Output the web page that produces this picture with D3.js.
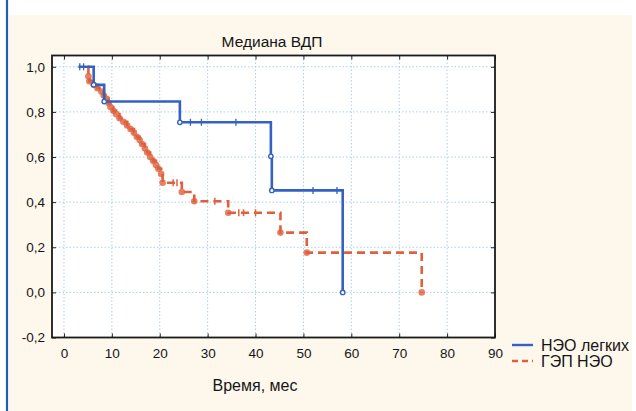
<!DOCTYPE html>
<html><head><meta charset="utf-8">
<script src="https://cdn.jsdelivr.net/npm/d3@7"></script>
<style>
html,body{margin:0;padding:0;background:#fff;}
svg{display:block;font-family:"Liberation Sans",Arial,sans-serif;}
</style></head>
<body><svg id="c" width="636" height="411"></svg>
<script>
// ---- data ----
const chartTitle = "Медиана ВДП";
const xLabel = "Время, мес";
const xTicks = [0,10,20,30,40,50,60,70,80,90];
const yTicks = [-0.2,0,0.2,0.4,0.6,0.8,1.0];
const seriesNames = ["НЭО легких","ГЭП НЭО"];

// НЭО легких (Kaplan–Meier steps)
const blueTime = [3.0, 6.2, 8.4, 24.2, 43.2, 43.4, 58.2];
const blueSurv = [1.0, 0.92, 0.846, 0.754, 0.603, 0.452, 0.0];
const blueCensT = [3.3, 4.1, 26.4, 28.7, 35.9, 52.0, 57.0];
const blueCensS = [1.0, 1.0, 0.754, 0.754, 0.754, 0.452, 0.452];

// ГЭП НЭО
const redTime = [5.0, 5.1, 5.3, 6.2, 7.0, 7.8, 8.3, 8.9, 9.3, 9.7, 10.3, 10.9, 11.6, 12.4, 13.2, 13.9, 14.6, 15.2, 15.8, 16.3, 16.9, 17.4, 18.0, 18.6, 19.2, 19.7, 20.3, 20.6, 24.6, 27.2, 34.3, 45.2, 50.7, 74.7];
const redSurv = [1.0, 0.958, 0.936, 0.92, 0.905, 0.89, 0.873, 0.858, 0.84, 0.822, 0.805, 0.79, 0.772, 0.756, 0.74, 0.724, 0.708, 0.69, 0.675, 0.658, 0.638, 0.62, 0.6, 0.583, 0.565, 0.548, 0.525, 0.486, 0.445, 0.404, 0.353, 0.265, 0.176, 0.0];
const redCensT = [22.8, 23.6, 31.5, 36.5, 37.5, 40.0];
const redCensS = [0.486, 0.486, 0.404, 0.353, 0.353, 0.353];

// ---- drawing ----
const svg = d3.select("#c");
const W = 636, H = 411;
const L = 52, R = 495, T = 55.5, B = 337.5;
const blue = "#3461c4", red = "#e0603c";
const ink = "#151515";

svg.append("rect").attr("x",0).attr("y",0).attr("width",W).attr("height",H).attr("fill","#fff");
svg.append("rect").attr("x",9).attr("y",15).attr("width",623).attr("height",H-15).attr("fill","#fdf7ec");
svg.append("line").attr("x1",7).attr("x2",7).attr("y1",0).attr("y2",H).attr("stroke","#1e5fb4").attr("stroke-width",2.2);

const x = d3.scaleLinear().domain([-2.5,90]).range([L,R]);
const y = d3.scaleLinear().domain([-0.2,1.05]).range([B,T]);

svg.append("rect").attr("x",L).attr("y",T).attr("width",R-L).attr("height",B-T).attr("fill","#fff");

// grid
const g = svg.append("g");
g.selectAll(".gx").data(xTicks.filter(d=>d<90)).join("line")
  .attr("x1",d=>x(d)).attr("x2",d=>x(d)).attr("y1",T).attr("y2",B)
  .attr("stroke","#a9d0ea").attr("stroke-width",1).attr("stroke-dasharray","1.5,2");
g.selectAll(".gy").data(yTicks.filter(d=>d>-0.2)).join("line")
  .attr("x1",L).attr("x2",R).attr("y1",d=>y(d)).attr("y2",d=>y(d))
  .attr("stroke","#a9d0ea").attr("stroke-width",1).attr("stroke-dasharray","1.5,2");

// axes (labels via d3 axis)
const fmt = d => d3.format(".1f")(d).replace(".",",").replace("−","-");
const yAxis = svg.append("g").attr("transform",`translate(${L},0)`)
  .call(d3.axisLeft(y).tickValues(yTicks).tickSize(-4).tickPadding(7).tickFormat(fmt));
const xAxis = svg.append("g").attr("transform",`translate(0,${B})`)
  .call(d3.axisBottom(x).tickValues(xTicks).tickSize(-4).tickPadding(11).tickFormat(d3.format("d")));
[yAxis,xAxis].forEach(a=>{
  a.select(".domain").remove();
  a.selectAll(".tick line").attr("stroke","#222").attr("stroke-width",1);
  a.selectAll(".tick text").attr("fill",ink).style("font-size","13.5px").style("font-family","'Liberation Sans',Arial,sans-serif");
});
// top & right ticks
svg.append("g").attr("transform",`translate(0,${T})`)
  .call(d3.axisTop(x).tickValues(xTicks).tickSize(-4).tickFormat(""))
  .call(a=>{a.select(".domain").remove();a.selectAll("line").attr("stroke","#222");});
svg.append("g").attr("transform",`translate(${R},0)`)
  .call(d3.axisRight(y).tickValues(yTicks).tickSize(-4).tickFormat(""))
  .call(a=>{a.select(".domain").remove();a.selectAll("line").attr("stroke","#222");});

// curves
const line = d3.line().x(d=>x(d[0])).y(d=>y(d[1])).curve(d3.curveStepAfter);
const blueData = blueTime.map((t,i)=>[t,blueSurv[i]]);
const redData = redTime.map((t,i)=>[t,redSurv[i]]);

// red markers
svg.append("g").selectAll("circle").data(redData.slice(1)).join("circle")
  .attr("cx",d=>x(d[0])).attr("cy",d=>y(d[1])).attr("r",3.3)
  .attr("fill",red).attr("fill-opacity",0.8);
svg.append("path").datum(redData).attr("d",line).attr("fill","none")
  .attr("stroke",red).attr("stroke-width",2.6).attr("stroke-dasharray","8,5");
svg.append("g").selectAll("line").data(redCensT.map((t,i)=>[t,redCensS[i]])).join("line")
  .attr("x1",d=>x(d[0])).attr("x2",d=>x(d[0])).attr("y1",d=>y(d[1])-3.5).attr("y2",d=>y(d[1])+3.5)
  .attr("stroke",red).attr("stroke-width",1.5);

svg.append("path").datum(blueData).attr("d",line).attr("fill","none")
  .attr("stroke",blue).attr("stroke-width",2.6);
svg.append("g").selectAll("circle").data(blueData.slice(1)).join("circle")
  .attr("cx",d=>x(d[0])).attr("cy",d=>y(d[1])).attr("r",2.2)
  .attr("fill","#fff").attr("stroke",blue).attr("stroke-width",1.4);
svg.append("g").selectAll("line").data(blueCensT.map((t,i)=>[t,blueCensS[i]])).join("line")
  .attr("x1",d=>x(d[0])).attr("x2",d=>x(d[0])).attr("y1",d=>y(d[1])-3.5).attr("y2",d=>y(d[1])+3.5)
  .attr("stroke",blue).attr("stroke-width",1.3);

// frame
svg.append("rect").attr("x",L).attr("y",T).attr("width",R-L).attr("height",B-T)
  .attr("fill","none").attr("stroke","#1a1a1a").attr("stroke-width",1.8);

// title and axis label
svg.append("text").attr("x",272).attr("y",46.5).attr("text-anchor","middle")
  .style("font-size","15.5px").attr("fill",ink).text(chartTitle);
svg.append("text").attr("x",255).attr("y",391).attr("text-anchor","middle")
  .style("font-size","16px").attr("fill",ink).text(xLabel);

// legend
const leg = svg.append("g");
const legY = [345, 361];
const legStyle = [{c:blue,d:null},{c:red,d:"6,4"}];
seriesNames.forEach((n,i)=>{
  leg.append("line").attr("x1",512).attr("x2",533).attr("y1",legY[i]).attr("y2",legY[i])
    .attr("stroke",legStyle[i].c).attr("stroke-width",2.4).attr("stroke-dasharray",legStyle[i].d);
  leg.append("text").attr("x",541).attr("y",legY[i]+5.5).style("font-size","16px")
    .attr("fill",ink).text(n);
});
</script></body></html>
